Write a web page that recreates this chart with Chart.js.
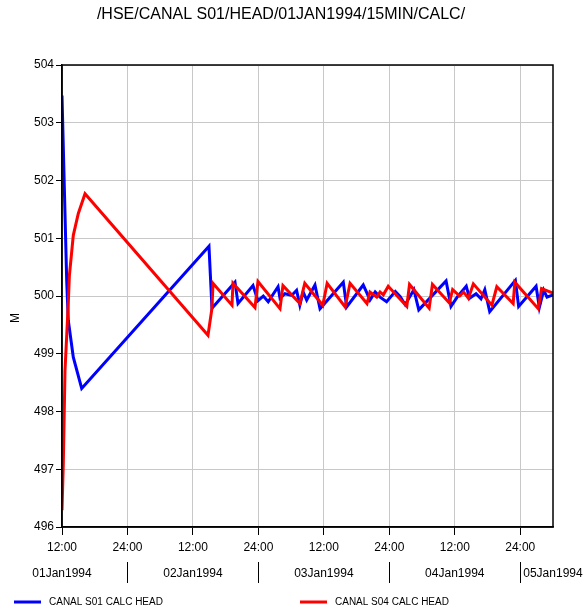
<!DOCTYPE html>
<html>
<head>
<meta charset="utf-8">
<script src="https://cdn.jsdelivr.net/npm/chart.js@4.4.1/dist/chart.umd.min.js"></script>
<style>
  body { margin: 0; background: #fff; }
  .HeadChart { width: 583px; height: 611px; }
</style>
</head>
<body>
<div class="HeadChart">
  <canvas id="myChart" width="583" height="611"></canvas>
</div>
<script>
// hours after 01Jan1994 12:00
const s01Hours = [0, 0.86, 1.15, 2.07, 3.61, 26.94, 27.49, 31.71, 32.26, 35.01, 35.92, 36.9, 37.8,
  39.6, 39.96, 40.87, 42.1, 43.0, 43.6, 44.2, 44.85, 46.37, 47.29, 51.56, 52.18, 55.22, 55.8, 56.45,
  57.4, 58.3, 59.5, 61.1, 62.0, 62.9, 64.5, 65.4, 70.4, 71.3, 72.5, 74.1, 74.7, 75.9, 76.8, 77.5,
  78.4, 83.1, 83.7, 86.9, 87.5, 88.3, 88.9, 90];
const s01Head = [503.47, 500.27, 499.58, 498.94, 498.40, 500.86, 499.79, 500.24, 499.87, 500.18, 499.92, 500.00, 499.90,
  500.16, 499.96, 500.04, 500.01, 500.10, 499.84, 500.07, 499.93, 500.19, 499.78, 500.24, 499.81, 500.19, 500.07, 499.93,
  500.07, 499.98, 499.90, 500.08, 499.99, 499.85, 500.11, 499.76, 500.26, 499.82, 499.99, 500.17, 499.96, 500.04, 499.95, 500.11,
  499.73, 500.27, 499.82, 500.17, 499.80, 500.10, 499.98, 500.02];

const s04Hours = [0, 0.24, 0.55, 1.15, 1.35, 2.07, 2.99, 4.22, 26.76, 27.49, 27.68, 31.16, 31.34, 35.37, 35.92,
  39.96, 40.5, 43.6, 44.5, 47.8, 48.6, 51.9, 52.8, 55.9, 56.45, 57.7, 58.3, 58.9, 59.8, 63.2, 63.7,
  67.3, 67.9, 71.0, 71.6, 72.9, 73.6, 74.5, 75.4, 78.8, 79.7, 82.7, 83.0, 87.3, 87.9, 90];
const s04Head = [496.29, 497.10, 498.71, 499.87, 500.35, 501.05, 501.43, 501.77, 499.32, 499.79, 500.22, 499.84, 500.22, 499.80, 500.25,
  499.78, 500.18, 499.87, 500.22, 499.84, 500.22, 499.81, 500.22, 499.87, 500.07, 499.98, 500.07, 500.02, 500.17, 499.82, 500.20,
  499.79, 500.20, 499.88, 500.11, 500.00, 500.07, 499.96, 500.21, 499.84, 500.16, 499.87, 500.24, 499.78, 500.13, 500.05];

const hourTicks = [0, 12, 24, 36, 48, 60, 72, 84];
const hourLabels = ['12:00', '24:00', '12:00', '24:00', '12:00', '24:00', '12:00', '24:00'];
const dayLabels = ['01Jan1994', '02Jan1994', '03Jan1994', '04Jan1994', '05Jan1994'];
const dayNoons = [0, 24, 48, 72, 96];
const midnights = [12, 36, 60, 84];

const seriesNames = ['CANAL S01 CALC HEAD', 'CANAL S04 CALC HEAD'];
const titleText = '/HSE/CANAL S01/HEAD/01JAN1994/15MIN/CALC/';

const FONT = "'Liberation Sans', Arial, sans-serif";

const toPoints = (xs, ys) => xs.map((x, i) => ({ x: x, y: ys[i] }));

const decorations = {
  id: 'decorations',
  afterDraw(chart) {
    const ctx = chart.ctx;
    const area = chart.chartArea;
    const x = chart.scales.x;
    ctx.save();

    // box round the plot
    ctx.strokeStyle = '#000';
    ctx.lineWidth = 1.5;
    ctx.strokeRect(area.left, area.top, area.right - area.left, area.bottom - area.top);

    ctx.fillStyle = '#000';
    ctx.font = '16px ' + FONT;
    ctx.textAlign = 'center';
    ctx.textBaseline = 'middle';
    ctx.fillText(titleText, 281, 15);

    ctx.font = '12px ' + FONT;
    ctx.save();
    ctx.translate(16, 318);
    ctx.rotate(-Math.PI / 2);
    ctx.fillText('M', 0, 0);
    ctx.restore();

    // day row under the hour ticks
    ctx.lineWidth = 1;
    midnights.forEach(h => {
      const px = Math.round(x.getPixelForValue(h)) + 0.5;
      ctx.beginPath();
      ctx.moveTo(px, 562);
      ctx.lineTo(px, 583);
      ctx.stroke();
    });
    dayLabels.forEach((label, i) => {
      let px = x.getPixelForValue(dayNoons[i]);
      const w = ctx.measureText(label).width;
      if (px + w / 2 > chart.width) {
        ctx.textAlign = 'left';
        px = x.getPixelForValue(midnights[i - 1]) + 3;
      } else {
        ctx.textAlign = 'center';
      }
      ctx.fillText(label, px, 574);
    });

    // legend
    const colors = chart.data.datasets.map(d => d.borderColor);
    const legendX = [14, 300];
    ctx.font = '10px ' + FONT;
    ctx.textAlign = 'left';
    seriesNames.forEach((name, i) => {
      ctx.strokeStyle = colors[i];
      ctx.lineWidth = 3;
      ctx.beginPath();
      ctx.moveTo(legendX[i], 602);
      ctx.lineTo(legendX[i] + 27, 602);
      ctx.stroke();
      ctx.fillText(name, legendX[i] + 35, 602);
    });
    ctx.restore();
  }
};

const myChartRef = document.getElementById('myChart').getContext('2d');
new Chart(myChartRef, {
  type: 'line',
  data: {
    datasets: [
      {
        label: seriesNames[0],
        data: toPoints(s01Hours, s01Head),
        borderColor: '#0000ff',
        borderWidth: 3,
        pointRadius: 0,
        tension: 0,
        order: 1,
      },
      {
        label: seriesNames[1],
        data: toPoints(s04Hours, s04Head),
        borderColor: '#ff0000',
        borderWidth: 3,
        pointRadius: 0,
        tension: 0,
        order: 0,
      },
    ],
  },
  options: {
    responsive: false,
    animation: false,
    layout: { padding: { top: 65, right: 30, left: 0, bottom: 0 } },
    plugins: {
      legend: { display: false },
      title: { display: false },
      tooltip: { enabled: false },
    },
    scales: {
      x: {
        type: 'linear',
        min: 0,
        max: 90,
        afterBuildTicks: scale => { scale.ticks = hourTicks.map(v => ({ value: v })); },
        afterFit: scale => { scale.height = 84; },
        grid: { color: '#c8c8c8', tickColor: '#000', tickLength: 8 },
        border: { color: '#000', width: 1.5 },
        ticks: {
          color: '#000',
          font: { family: FONT, size: 12 },
          padding: 5,
          maxRotation: 0,
          autoSkip: false,
          callback: (value, index) => hourLabels[index],
        },
      },
      y: {
        min: 496,
        max: 504,
        afterFit: scale => { scale.width = 62; },
        grid: { color: '#c8c8c8', tickColor: '#000', tickLength: 6 },
        border: { color: '#000', width: 1.5 },
        ticks: {
          stepSize: 1,
          color: '#000',
          font: { family: FONT, size: 12 },
          padding: 2,
        },
      },
    },
  },
  plugins: [decorations],
});
</script>
</body>
</html>
